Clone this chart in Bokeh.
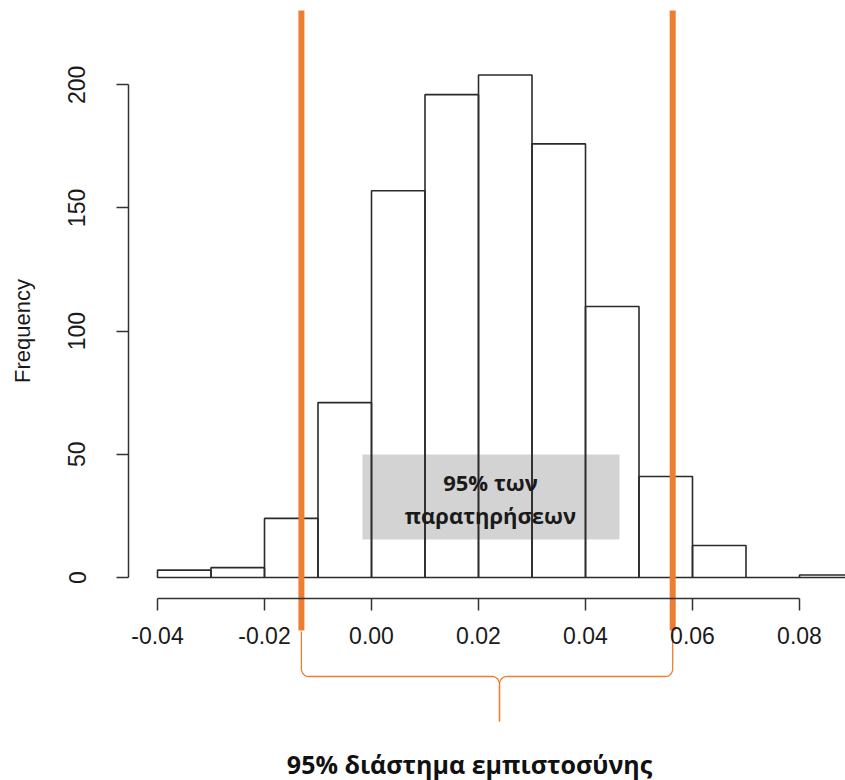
import numpy as np
from bokeh.plotting import figure
from bokeh.models import Range1d, FixedTicker, NumeralTickFormatter, ColumnDataSource
from bokeh.core.properties import value
from bokeh.embed import file_html
from bokeh.resources import INLINE

# ---- data ----
bin_left = [-0.04, -0.03, -0.02, -0.01, 0.00, 0.01, 0.02, 0.03, 0.04, 0.05, 0.06, 0.07, 0.08]
bin_right = [-0.03, -0.02, -0.01, 0.00, 0.01, 0.02, 0.03, 0.04, 0.05, 0.06, 0.07, 0.08, 0.09]
frequency = [3, 4, 24, 71, 157, 196, 204, 176, 110, 41, 13, 0, 1]
x_ticks = [-0.04, -0.02, 0.00, 0.02, 0.04, 0.06, 0.08]
y_ticks = [0, 50, 100, 150, 200]
ci_bounds = [-0.0131, 0.0563]
box_text = "95% των\nπαρατηρήσεων"
brace_text = "95% διάστημα εμπιστοσύνης"

W, H = 845, 780
# pixel calibration (page coords)
FX0, FY0 = 0, 0            # frame top-left on page
FX1, FY1 = FX0 + W, FY0 + H
px_per_x = 5350.0
px_per_y = 2.4635
x_at = lambda px: -0.04 + (px - 157) / px_per_x
y_at = lambda py: (577 - py) / px_per_y

p = figure(width=W, height=H, output_backend="svg", toolbar_location=None,
           x_range=Range1d(x_at(FX0), x_at(FX1)), y_range=Range1d(y_at(FY1), y_at(FY0)),
           min_border=0, min_border_left=0, min_border_right=0, min_border_top=0, min_border_bottom=0)
p.outline_line_color = None
p.grid.visible = False
p.background_fill_color = "white"

src = ColumnDataSource(dict(left=bin_left, right=bin_right, top=frequency, bottom=[0] * len(frequency)))
p.quad(left="left", right="right", top="top", bottom="bottom", source=src,
       fill_color="white", line_color=None)

# grey box
p.quad(left=[x_at(362)], right=[x_at(619)], top=[y_at(454)], bottom=[y_at(539)],
       fill_color="#d3d3d3", line_color=None)

p.quad(left="left", right="right", top="top", bottom="bottom", source=src,
       fill_color=None, line_color="#2b2b2b", line_width=1.6)

p.text(x=[x_at(490)], y=[y_at(498)], text=[box_text], text_font=value("Open Sans"),
       text_font_style="bold", text_font_size="22px", text_align="center",
       text_baseline="middle", text_color="#1a1a1a", text_line_height=1.08)

# CI lines
p.segment(x0=ci_bounds, x1=ci_bounds, y0=[y_at(630)] * 2, y1=[y_at(10)] * 2,
          line_color="#ED7D31", line_width=6)

# brace
L, R = ci_bounds
M = x_at(499)
yt, yh, yb = y_at(631), y_at(676), y_at(721)
rx, ry = 7 / px_per_x, 8 / px_per_y
t = np.linspace(0, np.pi / 2, 12)
bx, by = [L], [yt]
bx += list(L + rx - rx * np.cos(t)); by += list(yh + ry - ry * np.sin(t))
bx += list(M - rx + rx * np.sin(t)); by += list(yh - ry + ry * np.cos(t))
bx += [M]; by += [yb]
bx2 = list(M + rx - rx * np.sin(t[::-1])); by2 = list(yh - ry + ry * np.cos(t[::-1]))
bx2 += list(R - rx + rx * np.cos(t[::-1])); by2 += list(yh + ry - ry * np.sin(t[::-1]))
bx2 += [R]; by2 += [yt]
p.line(x=bx, y=by, line_color="#ED7D31", line_width=1.3)
p.line(x=[M] + bx2, y=[yb] + by2, line_color="#ED7D31", line_width=1.3)

p.text(x=[x_at(469)], y=[y_at(763)], text=[brace_text], text_font=value("Open Sans"),
       text_font_style="bold", text_font_size="25px", text_align="center",
       text_baseline="middle", text_color="#111111")

# axes
xa = p.xaxis[0]
xa.fixed_location = y_at(598)
xa.bounds = (-0.04, 0.08)
xa.ticker = FixedTicker(ticks=x_ticks)
xa.formatter = NumeralTickFormatter(format="0.00")
ya = p.yaxis[0]
ya.fixed_location = x_at(128)
ya.bounds = (0, 200)
ya.ticker = FixedTicker(ticks=y_ticks)
ya.major_label_orientation = "vertical"
ya.axis_label = "Frequency"
for ax in (xa, ya):
    ax.axis_line_color = "#333333"
    ax.axis_line_width = 1.5
    ax.major_tick_line_color = "#333333"
    ax.major_tick_line_width = 1.5
    ax.major_tick_out = 12
    ax.major_tick_in = 0
    ax.minor_tick_line_color = None
    ax.major_label_text_font = "Liberation Sans"
    ax.major_label_text_font_size = "23px"
    ax.major_label_text_color = "#1a1a1a"
xa.major_label_standoff = 16
ya.major_label_standoff = 31
ya.axis_label_text_font = "Liberation Sans"
ya.axis_label_text_font_size = "22px"
ya.axis_label_text_font_style = "normal"
ya.axis_label_text_color = "#1a1a1a"
ya.axis_label_standoff = 31

open("out.html", "w").write(file_html(p, INLINE))
